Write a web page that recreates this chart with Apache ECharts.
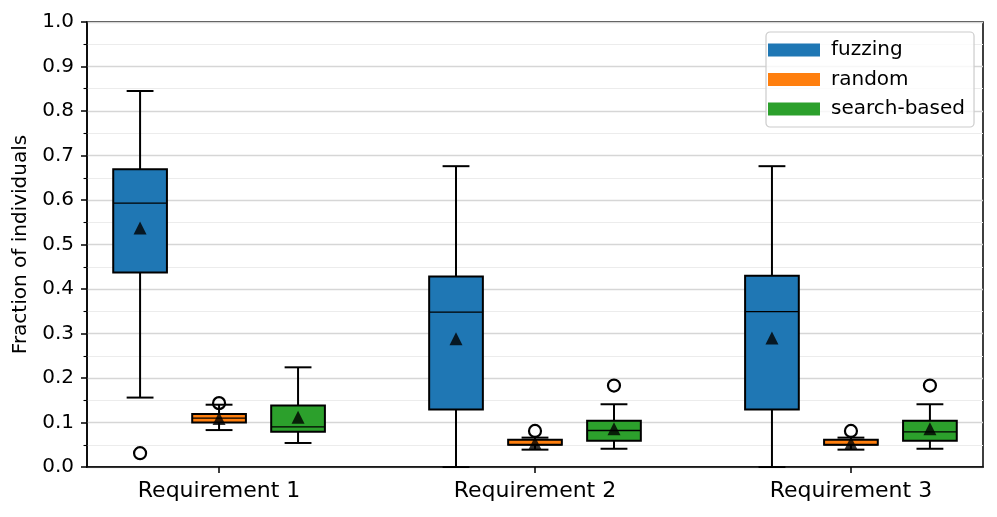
<!DOCTYPE html>
<html>
<head>
<meta charset="utf-8">
<script src="https://cdn.jsdelivr.net/npm/echarts@6/dist/echarts.min.js"></script>
<style>
html,body{margin:0;padding:0;background:#fff;}
#chart{width:997px;height:517px;}
</style>
</head>
<body>
<div id="chart"></div>
<script>
// ---- data ----
const categories = ['Requirement 1', 'Requirement 2', 'Requirement 3'];
const seriesNames = ['fuzzing', 'random', 'search-based'];
// [lower whisker, Q1, median, Q3, upper whisker]
const fuzzingStats = [[0.156, 0.437, 0.593, 0.669, 0.845], [0.0, 0.129, 0.348, 0.428, 0.676], [0.0, 0.129, 0.349, 0.430, 0.676]];
const randomStats  = [[0.083, 0.100, 0.110, 0.119, 0.140], [0.039, 0.050, 0.050, 0.061, 0.066], [0.039, 0.050, 0.050, 0.061, 0.066]];
const searchStats  = [[0.054, 0.079, 0.090, 0.138, 0.224], [0.041, 0.059, 0.082, 0.104, 0.141], [0.041, 0.059, 0.079, 0.104, 0.141]];
const fuzzingMeans = [0.537, 0.288, 0.290];
const randomMeans  = [0.109, 0.054, 0.054];
const searchMeans  = [0.112, 0.086, 0.086];
const fuzzingOutliers = [[0.031], [], []];
const randomOutliers  = [[0.1435], [0.081], [0.081]];
const searchOutliers  = [[], [0.183], [0.183]];
const yTicks = [0, 0.1, 0.2, 0.3, 0.4, 0.5, 0.6, 0.7, 0.8, 0.9, 1.0];

// ---- layout / style ----
const colors = ['#1f77b4', '#ff7f0e', '#2ca02c'];
const offsets = [-0.25, 0, 0.25];
const boxWidth = 0.17;
const FONT = 'DejaVu Sans';

const allStats = [fuzzingStats, randomStats, searchStats];
const allMeans = [fuzzingMeans, randomMeans, searchMeans];
const allOutliers = [fuzzingOutliers, randomOutliers, searchOutliers];

function renderBox(params, api) {
  const x = api.value(0);
  const lo = api.coord([x, api.value(1)]);
  const q1 = api.coord([x, api.value(2)]);
  const md = api.coord([x, api.value(3)]);
  const q3 = api.coord([x, api.value(4)]);
  const hi = api.coord([x, api.value(5)]);
  const w = api.size([boxWidth, 0])[0];
  const cx = lo[0];
  const cap = w / 4;
  const ls = { stroke: '#000', lineWidth: 2, fill: null };
  return {
    type: 'group',
    children: [
      { type: 'line', shape: { x1: cx, y1: lo[1], x2: cx, y2: q1[1] }, style: ls },
      { type: 'line', shape: { x1: cx, y1: q3[1], x2: cx, y2: hi[1] }, style: ls },
      { type: 'line', shape: { x1: cx - cap, y1: lo[1], x2: cx + cap, y2: lo[1] }, style: ls },
      { type: 'line', shape: { x1: cx - cap, y1: hi[1], x2: cx + cap, y2: hi[1] }, style: ls },
      { type: 'rect', shape: { x: cx - w / 2, y: q3[1], width: w, height: q1[1] - q3[1] },
        style: { fill: api.visual('color'), stroke: '#000', lineWidth: 2 } },
      { type: 'line', shape: { x1: cx - w / 2, y1: md[1], x2: cx + w / 2, y2: md[1] },
        style: { stroke: '#000', lineWidth: 1.3 } }
    ]
  };
}

const series = [];
seriesNames.forEach((name, k) => {
  series.push({
    name: name,
    type: 'custom',
    renderItem: renderBox,
    itemStyle: { color: colors[k] },
    encode: { x: 0, y: [1, 2, 3, 4, 5] },
    data: allStats[k].map((s, i) => [i + 1 + offsets[k]].concat(s)),
    z: 2
  });
});
const outlierData = [];
const meanData = [];
seriesNames.forEach((name, k) => {
  allOutliers[k].forEach((arr, i) => arr.forEach(v => outlierData.push([i + 1 + offsets[k], v])));
  allMeans[k].forEach((v, i) => meanData.push([i + 1 + offsets[k], v]));
});
series.push({
  name: 'outliers', type: 'scatter', symbol: 'circle', symbolSize: 12,
  itemStyle: { color: 'rgba(0,0,0,0)', borderColor: '#000', borderWidth: 2.2, opacity: 1 },
  data: outlierData, z: 5
});
series.push({
  name: 'means', type: 'scatter', symbol: 'triangle', symbolSize: 13,
  itemStyle: { color: '#000' }, data: meanData, z: 6
});

const chart = echarts.init(document.getElementById('chart'), null, { renderer: 'canvas' });
chart.setOption({
  animation: false,
  backgroundColor: '#fff',
  textStyle: { fontFamily: FONT },
  grid: { left: 87, right: 14, top: 22, bottom: 50, show: true, borderColor: '#000', borderWidth: 1.5, backgroundColor: 'transparent' },
  legend: {
    data: seriesNames,
    orient: 'vertical',
    left: 766, top: 32,
    icon: 'rect',
    itemWidth: 52, itemHeight: 13,
    itemGap: 9.5,
    padding: [8, 9, 8, 2],
    backgroundColor: 'rgba(255,255,255,0.8)',
    borderColor: '#cccccc', borderWidth: 1.2, borderRadius: 4,
    selectedMode: false,
    textStyle: { fontFamily: FONT, fontSize: 20, color: '#000', padding: [0, 0, 0, 6] }
  },
  xAxis: {
    type: 'value', min: 0.582, max: 3.418,
    splitLine: { show: false },
    axisLine: { show: true, onZero: false, lineStyle: { color: '#000', width: 1.5 } },
    axisTick: { show: true, customValues: [1, 2, 3], length: 6, inside: false, lineStyle: { color: '#000', width: 1.5 } },
    axisLabel: { customValues: [1, 2, 3], formatter: v => categories[Math.round(v) - 1] || '', fontFamily: FONT, fontSize: 22, color: '#000', margin: 13 }
  },
  yAxis: {
    type: 'value', min: 0, max: 1, interval: 0.1,
    name: 'Fraction of individuals', nameLocation: 'middle', nameGap: 56,
    nameTextStyle: { fontFamily: FONT, fontSize: 20, color: '#000' },
    axisLine: { show: true, lineStyle: { color: '#000', width: 1.5 } },
    axisTick: { show: true, length: 6, lineStyle: { color: '#000', width: 1.5 } },
    minorTick: { show: true, splitNumber: 2, length: 3.5, lineStyle: { color: '#000', width: 1.1 } },
    splitLine: { show: true, lineStyle: { color: '#d6d6d6', width: 1.4 } },
    minorSplitLine: { show: true, lineStyle: { color: '#ececec', width: 1.1 } },
    axisLabel: { formatter: v => { const t = yTicks.find(y => Math.abs(y - v) < 1e-9); return (t === undefined ? v : t).toFixed(1); }, fontFamily: FONT, fontSize: 20, color: '#000', margin: 13 }
  },
  series: series
});
</script>
</body>
</html>
